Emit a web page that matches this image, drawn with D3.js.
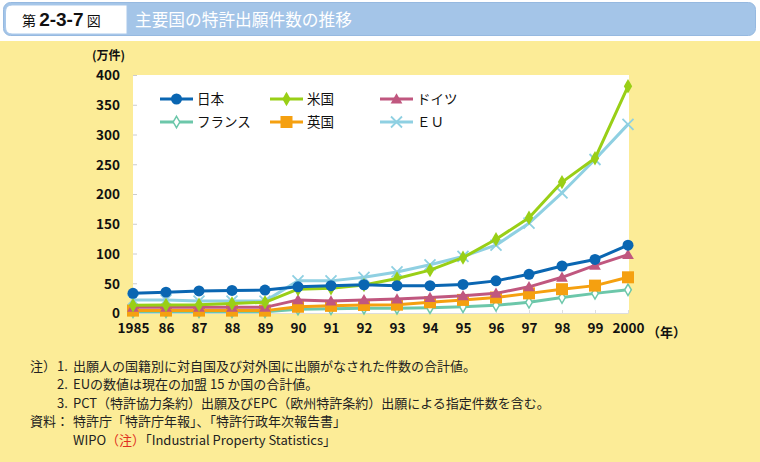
<!DOCTYPE html>
<html><head><meta charset="utf-8">
<script src="https://cdn.jsdelivr.net/npm/d3@7"></script>
<style>
html,body{margin:0;padding:0;background:#fff;}
svg{display:block;}
text{font-family:"Noto Sans CJK JP","Liberation Sans",sans-serif;}
</style></head>
<body>
<svg id="c" width="760" height="462"></svg>
<script>
const years = [1985,1986,1987,1988,1989,1990,1991,1992,1993,1994,1995,1996,1997,1998,1999,2000];
const yearLabels = ["1985","86","87","88","89","90","91","92","93","94","95","96","97","98","99","2000"];
const yTicks = [0,50,100,150,200,250,300,350,400];
const japan   = [33,35,37,38,38.5,44,46,47.5,46,46,48,54,65,79,90,114];
const usa     = [13,13.5,14,16,18,40,41.5,47,58,72,93,124,160,220,260,381];
const germany = [9.5,9.5,9.5,9.5,9.5,22,20,22,23.5,26,29,33,44,60,80,98];
const france  = [2,2,2,2,2,6.5,7,8,8,9,10.5,13,18,26,33,39];
const uk      = [4,4,4,4,4,10.5,12,13.5,14,18,22,26,33,40,46,60];
const eu      = [22,22,20,20,20,54,54,60,69,81,95,114,151,202,258,317];
const seriesNames = ["日本","米国","ドイツ","フランス","英国","ＥＵ"];

const svg = d3.select("#c");
// background
svg.append("rect").attr("x",0).attr("y",41).attr("width",760).attr("height",421).attr("fill","#FCEC97");
// header
svg.append("rect").attr("x",3.5).attr("y",2.5).attr("width",752).attr("height",33).attr("rx",7)
  .attr("fill","#A4C5E8").attr("stroke","#96B9E0");
svg.append("path").attr("d","M12,5 H127 V34 H12 Q5.5,34 5.5,27 V12 Q5.5,5 12,5 Z").attr("fill","#fff").attr("stroke","#A9C8EA");
const hd = svg.append("text").attr("x",22).attr("y",26).attr("fill","#111");
hd.append("tspan").attr("font-size",14).text("第 ");
hd.append("tspan").attr("font-size",19).attr("font-weight","bold").attr("font-family","Liberation Sans, Arial, sans-serif").text("2-3-7");
hd.append("tspan").attr("font-size",14).text(" 図");
svg.append("text").attr("x",135).attr("y",26).attr("font-size",16.7).attr("fill","#fff").text("主要国の特許出願件数の推移");

// plot area
const x = d3.scaleLinear().domain([1985,2000]).range([133,628]);
const y = d3.scaleLinear().domain([0,400]).range([313,75]);
svg.append("rect").attr("x",133).attr("y",75).attr("width",496).attr("height",238).attr("fill","#fff");

const yAxis = d3.axisLeft(y).tickValues(yTicks).tickSizeInner(-4).tickSizeOuter(0).tickPadding(13);
const ga = svg.append("g").attr("transform","translate(133,0)").call(yAxis);
ga.select(".domain").remove();
ga.selectAll(".tick line").attr("stroke","#ccc");
ga.selectAll(".tick text").attr("font-family","Liberation Sans, Arial, sans-serif").attr("font-size",13.5).attr("font-weight","bold").attr("fill","#111").attr("dy","0.36em");

const xAxis = d3.axisBottom(x).tickValues(years).tickFormat((d,i)=>yearLabels[i]).tickSizeInner(-3).tickSizeOuter(0).tickPadding(12);
const gx = svg.append("g").attr("transform","translate(0,313)").call(xAxis);
gx.select(".domain").attr("stroke","#ddd");
gx.selectAll(".tick line").attr("stroke","#ddd");
gx.selectAll(".tick text").attr("font-family","Liberation Sans, Arial, sans-serif").attr("font-size",13.5).attr("font-weight","bold").attr("fill","#111").attr("dy","0.6em");

svg.append("text").attr("x",92).attr("y",60).attr("font-size",12).attr("font-weight","bold").attr("fill","#111").text("(万件)");
svg.append("text").attr("x",647).attr("y",337).attr("font-size",13).attr("font-weight","bold").attr("fill","#111").text("（年）");

// markers
function marker(g, type, color, cx, cy){
  if(type==="circle") g.append("circle").attr("cx",cx).attr("cy",cy).attr("r",5.5).attr("fill",color);
  else if(type==="diamond") g.append("path").attr("d",d3.symbol(d3.symbolDiamond,60)()).attr("transform",`translate(${cx},${cy})`).attr("fill",color);
  else if(type==="hdiamond") g.append("path").attr("d",d3.symbol(d3.symbolDiamond,38)()).attr("transform",`translate(${cx},${cy})`).attr("fill","#fff").attr("stroke",color).attr("stroke-width",1.5);
  else if(type==="triangle") g.append("path").attr("d",d3.symbol(d3.symbolTriangle,60)()).attr("transform",`translate(${cx},${cy+1})`).attr("fill",color);
  else if(type==="square") g.append("rect").attr("x",cx-6).attr("y",cy-6).attr("width",12).attr("height",12).attr("fill",color);
  else if(type==="x") g.append("path").attr("d",`M${cx-5.5},${cy-5.5}L${cx+5.5},${cy+5.5}M${cx-5.5},${cy+5.5}L${cx+5.5},${cy-5.5}`).attr("stroke",color).attr("stroke-width",1.8).attr("fill","none");
}

const series = [
  {name:seriesNames[5], data:eu, color:"#8FD0E2", m:"x"},
  {name:seriesNames[3], data:france, color:"#6CC7AA", m:"hdiamond"},
  {name:seriesNames[4], data:uk, color:"#F5A010", m:"square"},
  {name:seriesNames[2], data:germany, color:"#C0577F", m:"triangle"},
  {name:seriesNames[1], data:usa, color:"#99CF16", m:"diamond"},
  {name:seriesNames[0], data:japan, color:"#0A66B2", m:"circle"}
];
const line = d3.line().x((d,i)=>x(years[i])).y(d=>y(d));
series.forEach(s=>{
  const g = svg.append("g");
  g.append("path").datum(s.data).attr("d",line).attr("fill","none").attr("stroke",s.color).attr("stroke-width",3).attr("stroke-linejoin","round");
  s.data.forEach((d,i)=>marker(g,s.m,s.color,x(years[i]),y(d)));
});

// legend
const legendOrder = [
  {s:series[5], lx:160, ly:99},{s:series[4], lx:270, ly:99},{s:series[3], lx:380, ly:99},
  {s:series[1], lx:160, ly:122},{s:series[2], lx:270, ly:122},{s:series[0], lx:380, ly:122}
];
legendOrder.forEach(o=>{
  const g = svg.append("g");
  g.append("line").attr("x1",o.lx).attr("x2",o.lx+33).attr("y1",o.ly).attr("y2",o.ly).attr("stroke",o.s.color).attr("stroke-width",3);
  marker(g,o.s.m,o.s.color,o.lx+16.5,o.ly);
  g.append("text").attr("x",o.lx+37).attr("y",o.ly+5).attr("font-size",13.5).attr("fill","#111").text(o.s.name);
});

// notes
const nf = 13;
function nt(xp, yp, str, color){ return svg.append("text").attr("x",xp).attr("y",yp).attr("font-size",nf).attr("fill",color||"#222").text(str); }
nt(30,371,"注）");
nt(57,371,"1.");
nt(73,371,"出願人の国籍別に対自国及び対外国に出願がなされた件数の合計値。");
nt(57,389,"2.");
nt(73,389,"EUの数値は現在の加盟 15 か国の合計値。");
nt(57,408,"3.");
nt(73,408,"PCT（特許協力条約）出願及びEPC（欧州特許条約）出願による指定件数を含む。");
nt(30,426,"資料：");
nt(73,426,"特許庁「特許庁年報」、「特許行政年次報告書」");
const w = svg.append("text").attr("x",73).attr("y",445).attr("font-size",nf).attr("fill","#222");
w.append("tspan").text("WIPO");
w.append("tspan").attr("fill","#E03020").text("（注）");
w.append("tspan").text("「Industrial Property Statistics」");
</script>
</body></html>
